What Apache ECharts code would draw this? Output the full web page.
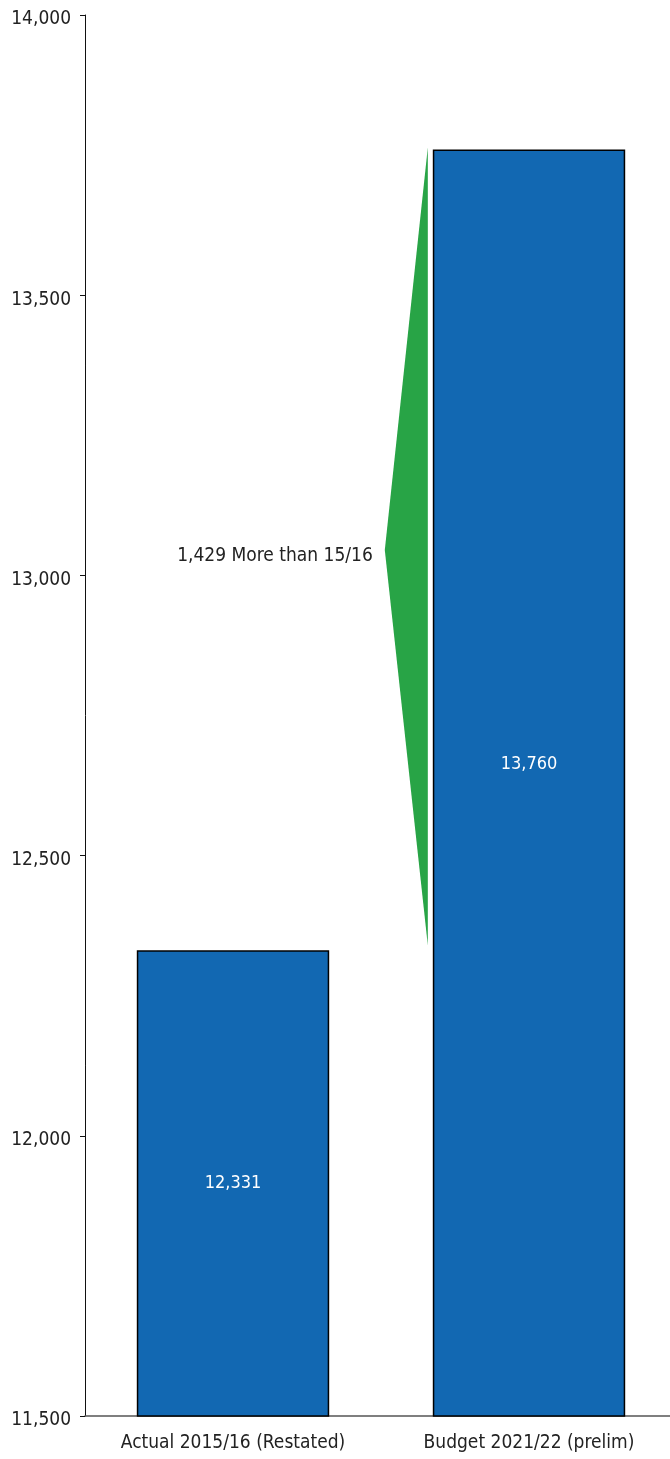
<!DOCTYPE html>
<html>
<head>
<meta charset="utf-8">
<script src="https://cdn.jsdelivr.net/npm/echarts@6/dist/echarts.min.js"></script>
<style>
html,body{margin:0;padding:0;background:#fff;}
#chart{width:670px;height:1459px;}
</style>
</head>
<body>
<div id="chart"></div>
<script>
const categories = ['Actual 2015/16 (Restated)', 'Budget 2021/22 (prelim)'];
const values = [12331, 13760];
const yTicks = [11500, 12000, 12500, 13000, 13500, 14000];
const changeText = 'More than 15/16';

const FONT = '"DejaVu Sans Condensed", "DejaVu Sans", sans-serif';
const diff = values[1] - values[0];
const fmt = v => v.toLocaleString('en-US');

const chart = echarts.init(document.getElementById('chart'));
chart.setOption({
  animation: false,
  grid: { left: 85, top: 15, bottom: 43, width: 592, containLabel: false, outerBoundsMode: 'none' },
  xAxis: {
    type: 'category',
    data: categories,
    axisLine: { lineStyle: { color: '#555', width: 1.5 } },
    axisTick: { alignWithLabel: true, length: 6, lineStyle: { color: '#333' } },
    axisLabel: { color: '#222', fontFamily: FONT, fontSize: 19, margin: 18 }
  },
  yAxis: {
    type: 'value',
    min: yTicks[0],
    max: yTicks[yTicks.length - 1],
    interval: 500,
    splitLine: { show: false },
    axisLine: { show: true, lineStyle: { color: '#111', width: 1 } },
    axisTick: { show: true, length: 5, lineStyle: { color: '#111' } },
    axisLabel: {
      color: '#222', fontFamily: FONT, fontSize: 19, margin: 14,
      formatter: v => '{a|' + fmt(v) + '}',
      rich: { a: { color: '#222', fontFamily: FONT, fontSize: 19, padding: [9, 0, 0, 0] } }
    }
  },
  series: [
    {
      type: 'bar',
      barWidth: '65%',
      data: values.map((v, i) => ({
        value: v,
        label: { offset: i === 1 ? [0, -19] : [0, 0] }
      })),
      itemStyle: { color: '#1268b2', borderColor: '#000', borderWidth: 1.5 },
      label: {
        show: true, position: 'inside', color: '#fff', fontFamily: FONT, fontSize: 18,
        formatter: p => fmt(p.value)
      }
    },
    {
      type: 'custom',
      data: [[1, values[0], values[1]]],
      encode: { x: 0, y: [1, 2] },
      z: 3,
      renderItem: function (params, api) {
        const idx = api.value(0);
        const top = api.coord([idx, api.value(2)]);
        const bot = api.coord([idx, api.value(1)]);
        const band = api.size([1, 0])[0];
        const right = top[0] - band * 0.325 - 5;
        const tip = right - 43;
        const midY = (top[1] + bot[1]) / 2;
        return {
          type: 'group',
          children: [
            {
              type: 'polygon',
              shape: { points: [[right, top[1] - 2], [tip, midY], [right, bot[1] - 5]] },
              style: { fill: '#28a446' }
            },
            {
              type: 'text',
              x: tip - 12, y: midY + 6,
              style: {
                text: fmt(diff) + ' ' + changeText,
                fill: '#222', font: '19px ' + FONT,
                align: 'right', verticalAlign: 'middle'
              }
            }
          ]
        };
      }
    }
  ]
});
</script>
</body>
</html>
